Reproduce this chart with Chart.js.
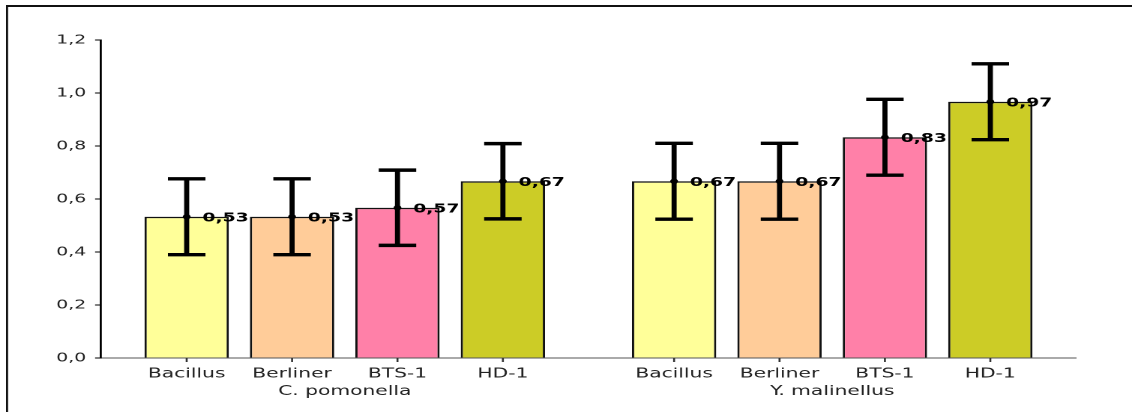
<!DOCTYPE html>
<html>
<head>
<meta charset="utf-8">
<script src="https://cdn.jsdelivr.net/npm/chart.js@4/dist/chart.umd.min.js"></script>
<style>
  html, body { margin: 0; padding: 0; background: #fff; overflow: hidden; }
  #wrap { width: 755px; height: 412px; transform: scaleX(1.49934); transform-origin: 0 0; }
</style>
</head>
<body>
<div id="wrap"><canvas id="c" width="755" height="412"></canvas></div>
<script>
// ---- data ----
const groups = ['C. pomonella', 'Y. malinellus'];
const seriesNames = ['Bacillus', 'Berliner', 'BTS-1', 'HD-1'];
const bacillus = [0.533, 0.667];
const berliner = [0.533, 0.667];
const bts1 = [0.567, 0.833];
const hd1 = [0.667, 0.967];
const errBacillus = [0.143, 0.143];
const errBerliner = [0.143, 0.143];
const errBts1 = [0.142, 0.143];
const errHd1 = [0.142, 0.143];
const yTicks = [0, 0.2, 0.4, 0.6, 0.8, 1.0, 1.2];

const colors = ['#FFFF99', '#FFCC99', '#FF80A8', '#CCCC26'];
const values = [bacillus, berliner, bts1, hd1];
const errors = [errBacillus, errBerliner, errBts1, errHd1];

const fmt = (v, d) => v.toFixed(d).replace('.', ',');

const overlay = {
  id: 'overlay',
  beforeDraw(chart) {
    const ctx = chart.ctx;
    ctx.save();
    ctx.strokeStyle = '#111';
    ctx.lineWidth = 2;
    ctx.beginPath();
    ctx.moveTo(4.7, 6);
    ctx.lineTo(760, 6);
    ctx.stroke();
    ctx.lineWidth = 1.4;
    ctx.beginPath();
    ctx.moveTo(4.7, 5);
    ctx.lineTo(4.7, 420);
    ctx.stroke();
    ctx.restore();
  },
  afterDatasetsDraw(chart) {
    const ctx = chart.ctx;
    const y = chart.scales.y;
    const area = chart.chartArea;
    ctx.save();
    chart.data.datasets.forEach((ds, di) => {
      const meta = chart.getDatasetMeta(di);
      meta.data.forEach((bar, i) => {
        const v = ds.data[i];
        const e = ds.errors[i];
        const x = bar.x;
        const yv = y.getPixelForValue(v);
        const yt = y.getPixelForValue(v + e);
        const yb = y.getPixelForValue(v - e);
        ctx.strokeStyle = '#000';
        ctx.lineWidth = 3.4;
        ctx.lineCap = 'butt';
        ctx.beginPath();
        ctx.moveTo(x, yt); ctx.lineTo(x, yb);
        ctx.moveTo(x - 12.5, yt); ctx.lineTo(x + 12.5, yt);
        ctx.moveTo(x - 12.5, yb); ctx.lineTo(x + 12.5, yb);
        ctx.stroke();
        ctx.fillStyle = '#000';
        ctx.beginPath();
        ctx.arc(x, yv, 2.6, 0, Math.PI * 2);
        ctx.fill();
        ctx.font = 'bold 12.5px "DejaVu Sans"';
        ctx.textAlign = 'left';
        ctx.textBaseline = 'middle';
        ctx.fillText(fmt(v, 2), x + 10.5, yv + 1.5);
        // tick mark under axis
        ctx.strokeStyle = '#333';
        ctx.lineWidth = 1.3;
        ctx.beginPath();
        ctx.moveTo(x, area.bottom);
        ctx.lineTo(x, area.bottom + 4);
        ctx.stroke();
        // series name
        ctx.fillStyle = '#222';
        ctx.font = '13.5px "DejaVu Sans"';
        ctx.textAlign = 'center';
        ctx.textBaseline = 'alphabetic';
        ctx.fillText(ds.label, x, area.bottom + 19.5);
      });
    });
    ctx.restore();
  }
};

new Chart(document.getElementById('c'), {
  type: 'bar',
  data: {
    labels: groups,
    datasets: seriesNames.map((name, i) => ({
      label: name,
      data: values[i],
      errors: errors[i],
      backgroundColor: colors[i],
      borderColor: '#111',
      borderWidth: 1.5,
      categoryPercentage: 0.865,
      barPercentage: 0.8
    }))
  },
  options: {
    responsive: false,
    devicePixelRatio: 2,
    animation: false,
    layout: { padding: { left: 0, right: 37.4, top: 40, bottom: 0 } },
    plugins: { legend: { display: false }, tooltip: { enabled: false } },
    scales: {
      x: {
        grid: { display: true, drawOnChartArea: false, drawTicks: false },
        border: { display: true, color: '#555', width: 1 },
        ticks: { color: '#222', font: { family: 'DejaVu Sans', size: 13.5 }, padding: 25.5, maxRotation: 0 },
        afterFit(s) { s.height = 54; }
      },
      y: {
        min: 0, max: 1.2,
        afterBuildTicks(s) { s.ticks = yTicks.map(v => ({ value: v })); },
        grid: { display: true, drawOnChartArea: false, drawTicks: true, tickLength: 4, color: '#000', lineWidth: 1 },
        border: { display: true, color: '#000', width: 1.4 },
        ticks: { color: '#222', font: { family: 'DejaVu Sans', size: 12.5 }, padding: 6, callback: v => fmt(v, 1) },
        afterFit(s) { s.width = 67.4; }
      }
    }
  },
  plugins: [overlay]
});
</script>
</body>
</html>
